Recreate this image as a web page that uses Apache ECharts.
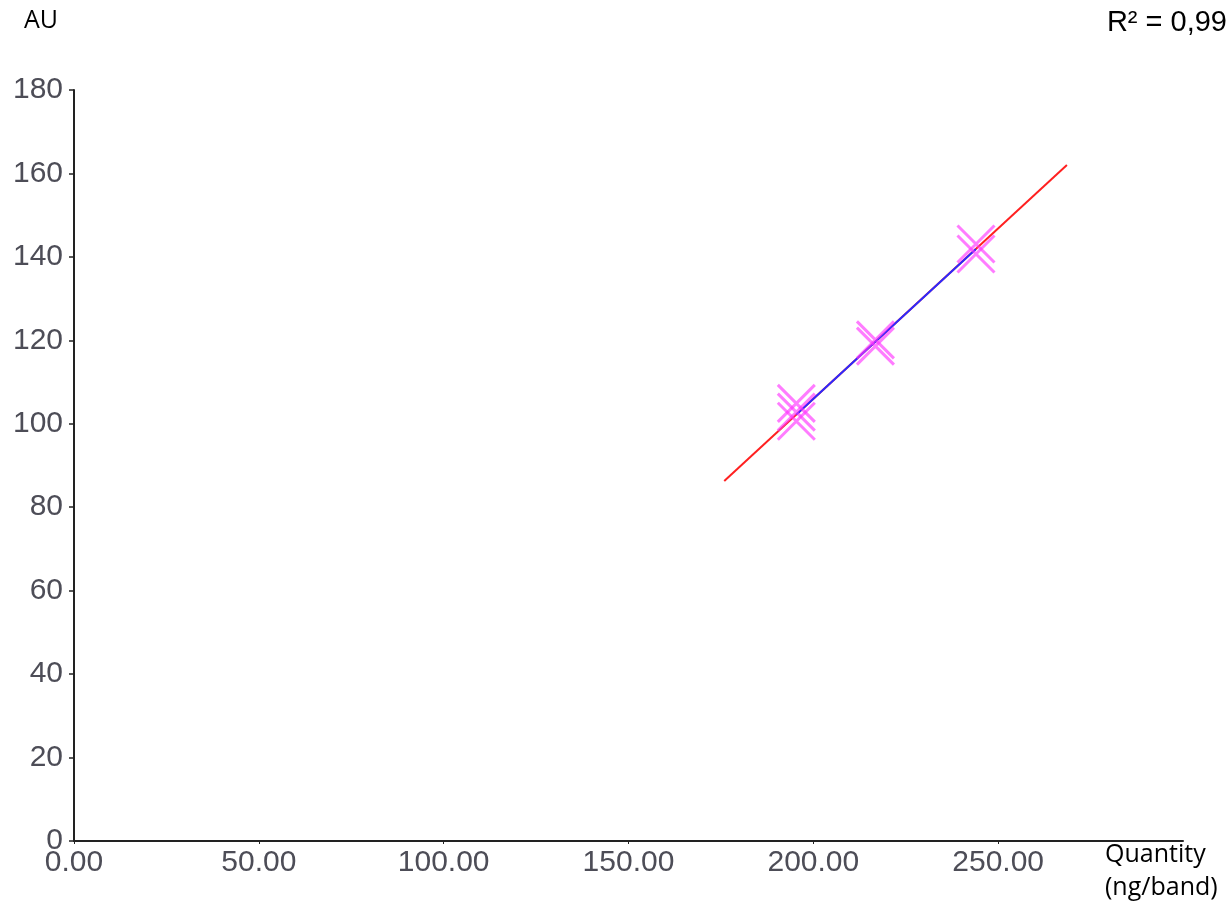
<!DOCTYPE html>
<html>
<head>
<meta charset="utf-8">
<script src="https://cdn.jsdelivr.net/npm/echarts@6/dist/echarts.min.js"></script>
<style>
html,body{margin:0;padding:0;background:#fff;}
#chart{width:1227px;height:906px;}
</style>
</head>
<body>
<div id="chart"></div>
<script>
// Data
const quantity = [195.4, 195.4, 195.4, 216.8, 216.8, 244.0, 244.0];
const au       = [104.9, 102.8, 100.6, 120.1, 118.6, 143.1, 140.7];
// Calibration line (red = extrapolated range, blue = calibrated range)
const redLineX = [175.9, 268.6];
const redLineY = [86.3, 162.0];
const blueLineX = [195.4, 244.0];
const blueLineY = [102.2, 141.9];
const xTicks = [0, 50, 100, 150, 200, 250];
const yTicks = [0, 20, 40, 60, 80, 100, 120, 140, 160, 180];
const r2Text = 'R² = 0,99';
const yName = 'AU';
const xName = 'Quantity\n(ng/band)';

const chart = echarts.init(document.getElementById('chart'));
const tickLabelStyle = {color: '#4d4d57', fontFamily: 'Liberation Sans, Arial, sans-serif', fontSize: 30};
chart.setOption({
  animation: false,
  grid: {left: 74, right: 44, top: 90, bottom: 65},
  xAxis: {
    type: 'value', min: 0, max: 300, interval: 50,
    axisLine: {lineStyle: {color: '#222', width: 2}},
    axisTick: {show: true, length: 3, customValues: xTicks, lineStyle: {color: '#222', width: 1}},
    axisLabel: {customValues: xTicks, formatter: v => v.toFixed(2), margin: 7, ...tickLabelStyle},
    splitLine: {show: false}
  },
  yAxis: {
    type: 'value', min: 0, max: 180, interval: 20,
    axisLine: {show: true, lineStyle: {color: '#222', width: 2}},
    axisTick: {show: true, length: 5, lineStyle: {color: '#222', width: 1.5}},
    axisLabel: {formatter: v => String(v), margin: 11, ...tickLabelStyle},
    splitLine: {show: false}
  },
  graphic: [
    {type: 'text', left: 24, top: 8, style: {text: yName, fill: '#000', font: '25px "Open Sans", sans-serif'}},
    {type: 'text', right: 0, top: 8, style: {text: r2Text, fill: '#000', font: '29px "Liberation Sans", Arial, sans-serif'}},
    {type: 'text', left: 1105, top: 838, style: {text: xName, fill: '#000', font: '25px "Open Sans", sans-serif', lineHeight: 33}}
  ],
  series: [
    {
      type: 'line', data: redLineX.map((x, i) => [x, redLineY[i]]),
      showSymbol: false, symbol: 'none',
      lineStyle: {color: '#ff2020', width: 2}, z: 2
    },
    {
      type: 'line', data: blueLineX.map((x, i) => [x, blueLineY[i]]),
      showSymbol: false, symbol: 'none',
      lineStyle: {color: '#2a2aff', width: 2}, z: 3
    },
    {
      type: 'scatter', data: quantity.map((x, i) => [x, au[i]]),
      symbol: 'path://M0,0L10,10M10,0L0,10', symbolSize: 37,
      itemStyle: {color: 'rgba(0,0,0,0)', borderColor: 'rgba(255,50,255,0.8)', borderWidth: 3},
      z: 4
    }
  ]
});
</script>
</body>
</html>
